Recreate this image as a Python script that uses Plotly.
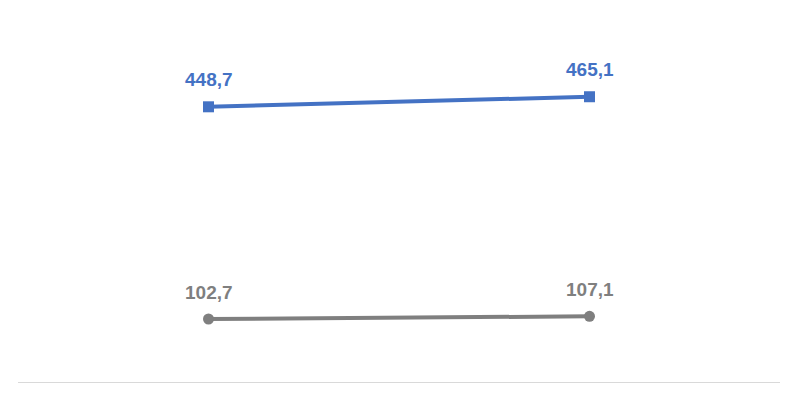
import plotly.graph_objects as go

categories = ["A", "B"]
series_top = [448.7, 465.1]
series_bottom = [102.7, 107.1]

blue = "#4472C4"
grey = "#7F7F7F"

fig = go.Figure()
fig.add_trace(go.Scatter(
    x=categories, y=series_top, mode="lines+markers",
    line=dict(color=blue, width=4),
    marker=dict(symbol="square", size=11, color=blue),
    name="top"
))
fig.add_trace(go.Scatter(
    x=categories, y=series_bottom, mode="lines+markers",
    line=dict(color=grey, width=4),
    marker=dict(symbol="circle", size=11, color=grey),
    name="bottom"
))

# data labels, a bit higher above the markers than textposition gives
for values, color in [(series_top, blue), (series_bottom, grey)]:
    for c, v in zip(categories, values):
        fig.add_annotation(
            x=c, y=v, text=f"{v:.1f}".replace(".", ","),
            showarrow=False, yanchor="middle", yshift=27,
            font=dict(family="Liberation Sans", size=19, color=color, weight="bold"))

# page body adds 8px, so margins are shifted to land the plot where the original is
fig.update_layout(
    width=800, height=400,
    margin=dict(l=10, r=28, t=6, b=26),
    paper_bgcolor="white", plot_bgcolor="white",
    showlegend=False,
)
fig.update_xaxes(range=[-0.5, 1.5], showticklabels=False, showgrid=False,
                 showline=True, linecolor="#D9D9D9", linewidth=1, zeroline=False)
fig.update_yaxes(range=[0, 600], visible=False)

fig.write_html("out.html")
